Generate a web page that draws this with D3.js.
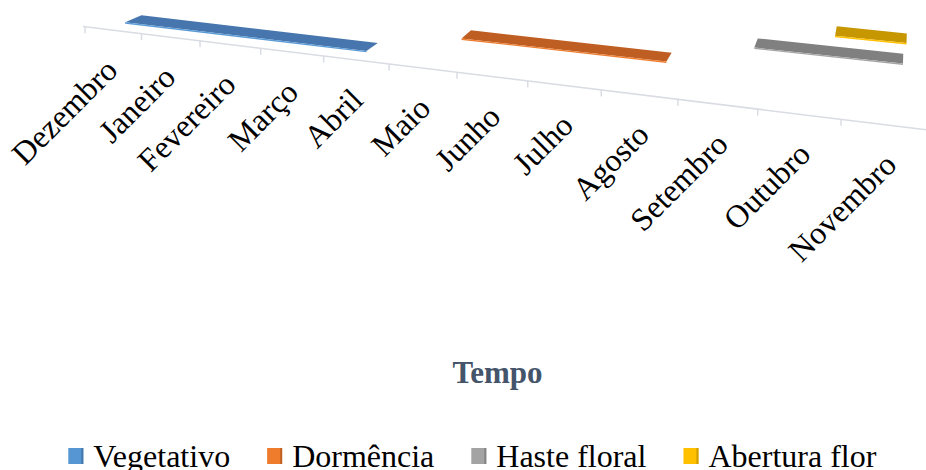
<!DOCTYPE html>
<html><head><meta charset="utf-8">
<script src="https://cdn.jsdelivr.net/npm/d3@7"></script>
<style>body{margin:0;background:#fff} svg{display:block}</style>
</head><body><svg id="chart" width="926" height="470"></svg>
<script>
// ---- data ----
const months = ["Dezembro","Janeiro","Fevereiro","Março","Abril","Maio","Junho","Julho","Agosto","Setembro","Outubro","Novembro"];
const series = ["Vegetativo","Dormência","Haste floral","Abertura flor"];
const startMonth = [1.0, 6.2, 10.0, 10.95];   // in months from start of Dezembro
const endMonth   = [4.83, 8.92, 11.72, 11.76];
const axisTitle = "Tempo";

// ---- styles / layout ----
const topColors   = ["#4676ad", "#bf5e22", "#808080", "#c69700"];
const edgeColors  = ["#5b9bd5", "#ed7d31", "#a5a5a5", "#ffc000"];
const legendColors= ["#5596d3", "#ef7b2c", "#a3a3a3", "#ffc000"];
const rowLift = d3.scaleOrdinal().domain(series).range([18, 39.4, 59.5, 76.4]);

const svg = d3.select("#chart");
const serif = "'Liberation Serif','Times New Roman',serif";

// perspective time scale
const u = d3.scaleLinear().domain([0, months.length]).range([0, 1]);
const X = t => 85 + 666 * u(t) / (1 - 0.21 * u(t));
const axisY = d3.scaleLinear().domain([85, 926]).range([26.7, 26.7 + 0.1225 * 841]);
const depthDx = x => 0.021 * (920 - x);
const thick = x => 7 + 0.0035 * (x - 140);
const lift = (s, x) => rowLift(s) * (1 + 0.00028 * (x - 85));

// axis line
svg.append("line")
  .attr("x1", 83).attr("y1", axisY(83))
  .attr("x2", 926).attr("y2", axisY(926))
  .attr("stroke", "#d9dce3").attr("stroke-width", 1.5);

// ticks
svg.append("g").selectAll("line")
  .data(d3.range(0, months.length + 1))
  .join("line")
  .attr("x1", d => X(d)).attr("x2", d => X(d))
  .attr("y1", d => axisY(X(d))).attr("y2", d => axisY(X(d)) + 6.5)
  .attr("stroke", "#d9dce3").attr("stroke-width", 1.5);

// month labels
svg.append("g").selectAll("text")
  .data(months)
  .join("text")
  .attr("transform", (d, i) => {
    const xc = (X(i) + X(i + 1)) / 2;
    return `translate(${xc + 6 + 0.01 * (xc - 113)},${axisY(xc) + 42}) rotate(-45)`;
  })
  .attr("text-anchor", "end")
  .attr("font-family", serif)
  .attr("font-size", 32)
  .attr("fill", "#000")
  .text(d => d);

// bars
const bars = series.map((s, i) => {
  const bx1 = X(startMonth[i]), bx2 = X(endMonth[i]);
  const by1 = axisY(bx1) - lift(s, bx1), by2 = axisY(bx2) - lift(s, bx2);
  const f1 = [bx1 - depthDx(bx1), by1 + thick(bx1)];
  const f2 = [bx2 - depthDx(bx2), by2 + thick(bx2)];
  return { i, top: [[bx1, by1], [bx2, by2], f2, f1], f1, f2 };
});
const g = svg.append("g");
g.selectAll("path.top").data(bars).join("path").attr("class", "top")
  .attr("d", d => d3.line()(d.top) + "Z")
  .attr("fill", d => topColors[d.i]);
g.selectAll("path.edge").data(bars).join("path").attr("class", "edge")
  .attr("d", d => d3.line()([d.f1, d.f2, [d.f2[0], d.f2[1] + 1.4], [d.f1[0], d.f1[1] + 1.4]]) + "Z")
  .attr("fill", d => edgeColors[d.i]);

// axis title
svg.append("text")
  .attr("x", 497.5).attr("y", 382.5)
  .attr("text-anchor", "middle")
  .attr("font-family", serif).attr("font-weight", "bold")
  .attr("font-size", 31).attr("fill", "#44546a")
  .text(axisTitle);

// legend
const lg = svg.append("g");
let lx = 68.3;
series.forEach((s, i) => {
  lg.append("rect").attr("x", lx).attr("y", 448).attr("width", 15).attr("height", 16)
    .attr("fill", legendColors[i]);
  lg.append("rect").attr("x", lx + 13).attr("y", 448).attr("width", 2).attr("height", 16)
    .attr("fill", d3.color(legendColors[i]).darker(0.6));
  const t = lg.append("text").attr("x", lx + 25).attr("y", 466.5)
    .attr("font-family", serif).attr("font-size", 32).attr("fill", "#000").text(s);
  lx = lx + 25 + t.node().getComputedTextLength() + 37;
});
</script></body></html>
